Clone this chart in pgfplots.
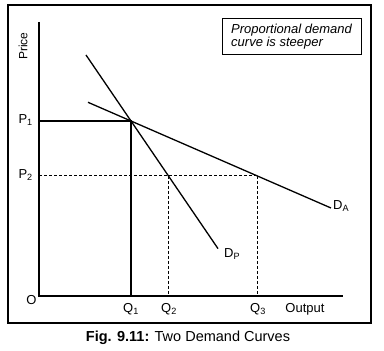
\documentclass[border=0pt]{standalone}
\usepackage{pgfplots}
\pgfplotsset{compat=1.18}
\usepackage{fontspec}
\setmainfont{Liberation Sans}
\begin{document}
\begin{tikzpicture}
\begin{axis}[x=1pt, y=1pt, xmin=-39, xmax=345, ymin=-55, ymax=296,
  hide axis, clip=false, scale only axis]
\path (axis cs:-39,-55) rectangle (axis cs:345,296);
% outer frame
\draw[line width=1.3pt] (axis cs:-31,291) rectangle (axis cs:332,-27);
% axes
\addplot[black, line width=1.3pt] coordinates {(0,274) (0,0) (304,0)};
% demand curves
\addplot[black, line width=1.3pt] coordinates {(47,241) (92,175) (179,47.4)};
\addplot[black, line width=1.3pt] coordinates {(49,193.7) (92,175) (292,88)};
% P1 / Q1 solid guides
\addplot[black, line width=1.1pt] coordinates {(0,175) (92,175) (92,0)};
% P2 dashed guides
\addplot[black, line width=1pt, dash pattern=on 3pt off 2pt] coordinates {(0,120) (218,120)};
\addplot[black, line width=1pt, dash pattern=on 3pt off 2pt] coordinates {(129.5,120) (129.5,0)};
\addplot[black, line width=1pt, dash pattern=on 3pt off 2pt] coordinates {(218,120) (218,0)};
% labels
\node[inner sep=0, rotate=90, font=\fontsize{12}{14}\selectfont] at (axis cs:-16,250) {Price};
\node[inner sep=0, anchor=east, font=\fontsize{13}{15}\selectfont] at (axis cs:-6,176) {P\textsubscript{1}};
\node[inner sep=0, anchor=east, font=\fontsize{13}{15}\selectfont] at (axis cs:-6,121) {P\textsubscript{2}};
\node[inner sep=0, font=\fontsize{13}{15}\selectfont] at (axis cs:-7.5,-4) {O};
\node[inner sep=0, anchor=north, font=\fontsize{13}{15}\selectfont] at (axis cs:92,-7) {Q\textsubscript{1}};
\node[inner sep=0, anchor=north, font=\fontsize{13}{15}\selectfont] at (axis cs:130,-7) {Q\textsubscript{2}};
\node[inner sep=0, anchor=north, font=\fontsize{13}{15}\selectfont] at (axis cs:219,-7) {Q\textsubscript{3}};
\node[inner sep=0, font=\fontsize{13}{15}\selectfont] at (axis cs:266,-13) {Output};
\node[inner sep=0, anchor=west, font=\fontsize{13}{15}\selectfont] at (axis cs:294,90) {D\textsubscript{A}};
\node[inner sep=0, anchor=west, font=\fontsize{13}{15}\selectfont] at (axis cs:185,42) {D\textsubscript{P}};
% text box
\draw[line width=1pt] (axis cs:183,277) rectangle (axis cs:322,241);
\node[inner sep=0, anchor=west, align=left, font=\fontsize{13}{12}\selectfont\itshape] at (axis cs:192,259.5) {Proportional demand\\curve is steeper};
% caption
\node[inner sep=0, font=\fontsize{14.5}{16}\selectfont] at (axis cs:149,-42) {\textbf{Fig. 9.11:} Two Demand Curves};
\end{axis}
\end{tikzpicture}
\end{document}
